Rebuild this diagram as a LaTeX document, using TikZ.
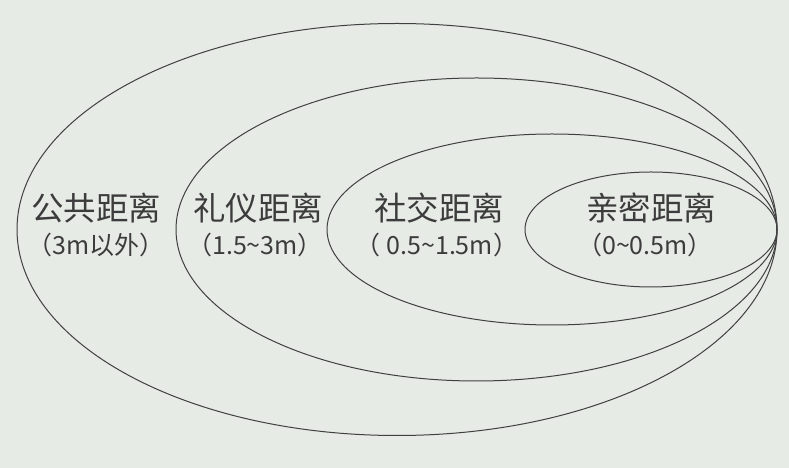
\documentclass[tikz,border=0pt]{standalone}
\usepackage{fontspec}
\newfontfamily\cjk{Noto Sans CJK SC}
\definecolor{bgc}{HTML}{E6EBE6}
\definecolor{linec}{HTML}{404040}
\definecolor{txtc}{HTML}{3C3C3C}
\begin{document}
\begin{tikzpicture}[x=1pt,y=1pt,
  ring/.style={draw=linec,line width=1pt},
  mainlbl/.style={font=\cjk\fontsize{32.5}{32.5}\selectfont,text=txtc,inner sep=0pt},
  sublbl/.style={font=\cjk\fontsize{25}{25}\selectfont,text=txtc,inner sep=0pt}]
\fill[bgc] (0,0) rectangle (789,468);
\useasboundingbox (0,0) rectangle (789,468);
\draw[ring] (397,238.5) ellipse [x radius=380,y radius=206];
\draw[ring] (476.5,238.5) ellipse [x radius=300.5,y radius=151.5];
\draw[ring] (552,238.5) ellipse [x radius=225,y radius=95.5];
\draw[ring] (651,238.5) ellipse [x radius=126,y radius=57.5];
\node[mainlbl] (m1) at (96,260) {公共距离};
\node[sublbl] (s1) at (96,223) {（3m以外）};
\node[mainlbl] (m2) at (258,260) {礼仪距离};
\node[sublbl] (s2) at (255,223) {（1.5\textasciitilde 3m）};
\node[mainlbl] (m3) at (439,260) {社交距离};
\node[sublbl] (s3) at (437,223) {（ 0.5\textasciitilde 1.5m）};
\node[mainlbl] (m4) at (651,260) {亲密距离};
\node[sublbl] (s4) at (645,223) {（0\textasciitilde 0.5m）};
\end{tikzpicture}
\end{document}
